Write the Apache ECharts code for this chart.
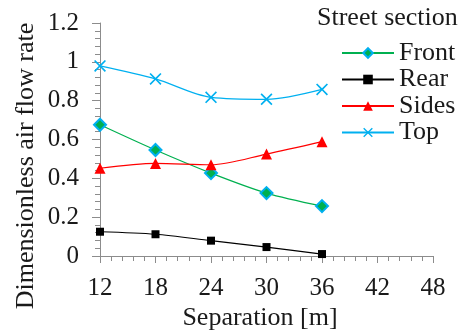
<!DOCTYPE html>
<html><head><meta charset="utf-8">
<script src="https://cdn.jsdelivr.net/npm/echarts@6/dist/echarts.min.js"></script>
<style>html,body{margin:0;padding:0;background:#fff}#c{width:465px;height:331px}</style>
</head><body><div id="c"></div>
<script>
var separation = [12, 18, 24, 30, 36];
var front = [0.676, 0.546, 0.427, 0.324, 0.257];
var rear = [0.125, 0.112, 0.079, 0.046, 0.010];
var sides = [0.452, 0.477, 0.470, 0.525, 0.589];
var top_ = [0.979, 0.912, 0.817, 0.807, 0.858];
var seriesNames = ['Front', 'Rear', 'Sides', 'Top'];
var xTitle = 'Separation [m]';
var yTitle = 'Dimensionless air flow rate';
var legendTitle = 'Street section';

function pairs(v){ return separation.map(function(x,i){ return [x, v[i]]; }); }
var FONT = 'Liberation Serif';
var TXT = '#1a1a1a';
var xShape = 'path://M0,1L1,0L5,4L9,0L10,1L6,5L10,9L9,10L5,6L1,10L0,9L4,5Z';

var chart = echarts.init(document.getElementById('c'));
chart.setOption({
  animation: false,
  textStyle: {fontFamily: FONT},
  grid: {left: 100, right: 32, top: 23, bottom: 75},
  graphic: [
    {type: 'text', x: 317, y: 5, style: {text: legendTitle, font: '26px "Liberation Serif"', fill: TXT}},
    {type: 'text', x: 260, y: 318, style: {text: xTitle, font: '26px "Liberation Serif"', fill: TXT, align: 'center', verticalAlign: 'middle'}},
    {type: 'text', x: 26, y: 166, rotation: Math.PI/2, style: {text: yTitle, font: '26px "Liberation Serif"', fill: TXT, align: 'center', verticalAlign: 'middle'}}
  ],
  legend: {
    orient: 'vertical', left: 336, top: 35, itemWidth: 52, itemHeight: 12, itemGap: 0.5,
    textStyle: {fontFamily: FONT, fontSize: 26, lineHeight: 26, color: TXT},
    data: seriesNames
  },
  xAxis: {
    type: 'value', min: 12, max: 48, interval: 6,
    axisLine: {show: true, onZero: false, lineStyle: {color: '#8c8c8c', width: 1}},
    axisTick: {show: true, length: 7, lineStyle: {color: '#8c8c8c'}},
    minorTick: {show: true, splitNumber: 5, length: 5, lineStyle: {color: '#8c8c8c'}},
    splitLine: {show: false},
    axisLabel: {fontFamily: FONT, fontSize: 25, color: TXT, margin: 20}
  },
  yAxis: {
    type: 'value', min: 0, max: 1.2, interval: 0.2,
    axisLine: {show: true, lineStyle: {color: '#8c8c8c', width: 1}},
    axisTick: {show: true, length: 8, lineStyle: {color: '#8c8c8c'}},
    minorTick: {show: true, splitNumber: 5, length: 5, lineStyle: {color: '#8c8c8c'}},
    splitLine: {show: false},
    axisLabel: {fontFamily: FONT, fontSize: 25, color: TXT, margin: 21,
      formatter: function(v){ return String(Math.round(v*10)/10); }}
  },
  series: [
    {name: 'Front', type: 'line', smooth: 0.3, data: pairs(front), symbol: 'diamond', symbolSize: 12,
      lineStyle: {color: '#00b050', width: 1.2},
      itemStyle: {color: '#00b050', borderColor: '#00b0f0', borderWidth: 2}},
    {name: 'Rear', type: 'line', smooth: 0.3, data: pairs(rear), symbol: 'rect', symbolSize: 8,
      lineStyle: {color: '#000', width: 1.2}, itemStyle: {color: '#000'}},
    {name: 'Sides', type: 'line', smooth: 0.3, data: pairs(sides), symbol: 'triangle', symbolSize: 11,
      lineStyle: {color: '#ff0000', width: 1.2}, itemStyle: {color: '#ff0000'}},
    {name: 'Top', type: 'line', smooth: 0.3, data: pairs(top_), symbol: xShape, symbolSize: 12,
      lineStyle: {color: '#00b0f0', width: 1.2}, itemStyle: {color: '#00b0f0'}}
  ]
});
</script></body></html>
